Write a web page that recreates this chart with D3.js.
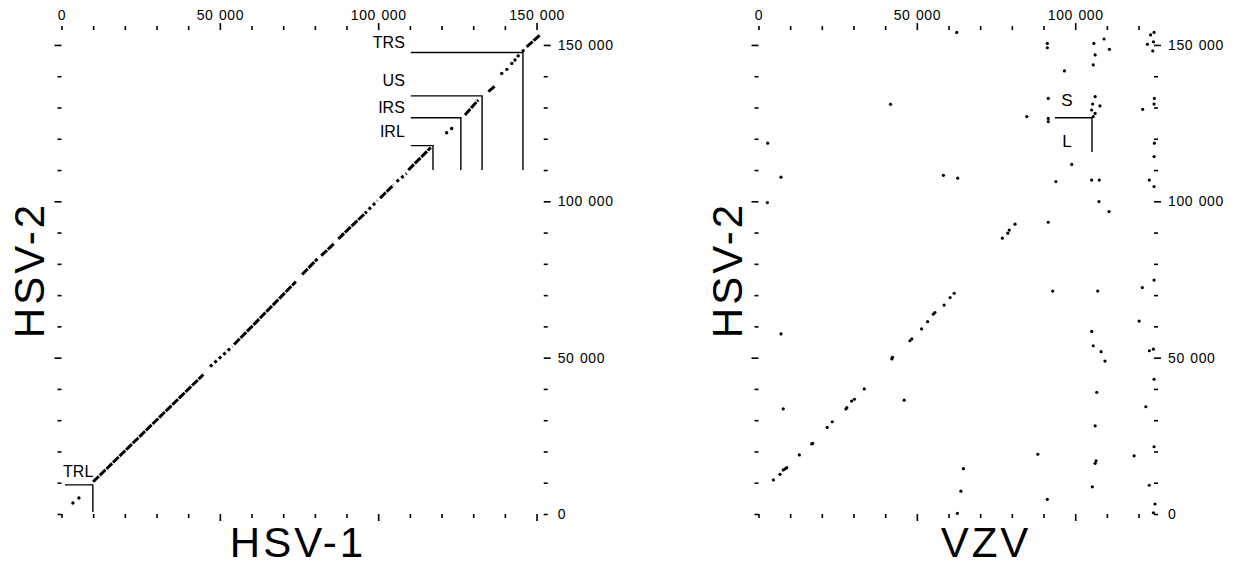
<!DOCTYPE html>
<title>HSV-1 / VZV vs HSV-2 dot plots</title>
<meta charset="utf-8">
<style>
  body { margin: 0; background: #fff; }
  svg { display: block; font-family: Arial, "Liberation Sans", Helvetica, sans-serif; }
  .tick line { stroke: #000; stroke-width: 1.6px; }
  .tick text { font-family: Arial, "Liberation Sans", sans-serif; font-size: 14px; letter-spacing: 0.6px; word-spacing: 1px; fill: #000; }
  .title { font-size: 42px; letter-spacing: 3px; }
  .region { font-size: 16px; }
  .mark { stroke: #000; stroke-width: 1.4px; fill: none; }
  .run { stroke: #000; stroke-width: 3px; fill: none; }
</style>
<body>
<script src="https://d3js.org/d3.v7.min.js"></script>
<script>
  // genome lengths, kb
  var hsv1Length = 152.261, hsv2Length = 154.746, vzvLength = 124.884;

  // tick labels (positions in kb)
  var hsv1TickValues = [0, 50, 100, 150];
  var hsv1TickLabels = ["0", "50 000", "100 000", "150 000"];
  var vzvTickValues = [0, 50, 100];
  var vzvTickLabels = ["0", "50 000", "100 000"];
  var hsv2TickValues = [0, 50, 100, 150];
  var hsv2TickLabels = ["0", "50 000", "100 000", "150 000"];

  // HSV-1 (x) vs HSV-2 (y): runs of matches along the diagonal [x1, y1, x2, y2], kb
  var hsvDenseRuns = [
    [10.0, 10.3, 44.8, 44.6],
    [54.5, 54.2, 74.0, 74.3],
    [76.0, 76.6, 80.8, 81.6],
    [82.0, 82.6, 86.2, 86.6],
    [87.4, 88.0, 96.4, 96.7],
    [100.6, 101.0, 104.8, 105.2],
    [109.5, 110.0, 116.6, 117.2],
    [127.4, 127.6, 131.6, 132.4],
    [134.8, 135.1, 136.9, 136.9],
    [146.9, 149.4, 151.1, 153.2]
  ];
  var hsvSparseRuns = [
    [46.9, 47.1, 54.0, 53.6],
    [97.0, 97.4, 99.8, 100.2],
    [105.8, 106.3, 109.0, 108.9]
  ];
  var hsvDots = [
    [3.6, 3.5], [5.5, 5.1], [121.6, 121.9], [123.2, 123.3], [139.0, 140.9],
    [140.6, 142.2], [142.2, 144.1], [143.2, 145.2], [144.2, 146.5], [145.8, 148.2]
  ];

  // region boundaries: end of each region in HSV-1 (x) and HSV-2 (y), kb
  var hsvRegionNames = ["IRL", "IRS", "US", "TRS"];
  var hsv1RegionEnds = [117.3, 126.1, 132.8, 145.7];
  var hsv2RegionEnds = [117.8, 126.7, 133.7, 147.6];
  var hsvRegionLabelY = [120.7, 128.1, 137.0, 148.9];
  var hsvRegionLineStart = 110.3, hsvRegionLineBottom = 110.0;
  var trlEnd = [9.9, 9.3], trlLineStart = 1.1, trlLineBottom = 0.6, trlLabel = [0.5, 11.8];

  // VZV (x) vs HSV-2 (y) matches, kb
  var vzvDots = [
    [61.8, 70.6], [60.5, 69.2], [58.6, 66.8], [55.7, 64.4], [55.2, 63.9], [53.4, 61.5],
    [51.5, 59.2], [48.4, 56.0], [47.8, 55.4], [42.3, 50.1], [42.1, 49.6], [33.4, 40.0],
    [30.3, 36.7], [29.4, 36.1], [27.9, 34.0], [27.6, 33.6], [23.3, 29.5], [21.7, 27.7],
    [17.1, 22.6], [16.8, 22.4], [12.9, 18.9], [8.9, 14.8], [8.4, 14.4], [7.8, 14.1],
    [6.8, 12.7], [4.7, 10.9],
    [77.0, 88.2], [78.7, 89.8], [79.2, 90.8], [81.0, 92.7],
    [7.1, 57.6], [7.8, 33.6], [46.0, 36.4], [64.7, 14.5], [63.9, 7.3], [62.8, 0.2],
    [88.2, 19.1], [91.2, 4.7], [105.2, 58.4], [105.7, 53.8], [108.2, 51.9], [109.4, 48.9],
    [106.8, 38.9], [106.3, 28.2], [106.6, 17.0], [106.3, 16.2], [105.4, 8.7], [120.2, 61.7],
    [123.4, 52.2], [124.7, 52.7], [124.9, 43.1], [122.3, 34.3], [124.9, 21.5], [118.6, 18.6],
    [123.4, 9.2], [125.2, 3.2], [124.7, 0.4],
    [7.1, 107.7], [2.8, 99.6], [2.9, 118.6], [41.7, 131.0], [58.4, 108.3], [62.9, 107.4],
    [93.9, 106.3], [105.2, 106.8], [107.6, 106.8], [123.4, 106.8], [124.9, 104.7], [107.5, 99.9],
    [110.7, 96.7], [91.5, 93.3], [124.9, 74.8], [121.2, 72.4], [92.9, 71.3], [107.1, 71.3],
    [91.5, 132.9], [84.7, 127.1], [91.5, 126.5], [91.5, 125.5], [106.3, 133.5], [105.5, 131.1],
    [107.8, 130.5], [105.2, 129.2], [106.3, 128.1], [105.7, 127.1], [121.3, 129.4], [125.0, 132.9],
    [124.9, 131.1], [125.0, 118.6], [124.9, 114.3], [98.9, 111.8],
    [91.2, 150.5], [91.2, 149.1], [105.9, 150.5], [109.1, 151.9], [110.8, 148.6], [106.3, 146.8],
    [105.7, 143.6], [96.6, 141.7], [124.9, 154.0], [123.8, 153.2], [124.7, 151.0], [122.8, 150.2],
    [124.5, 148.1], [62.6, 154.0]
  ];
  // S / L junction
  var slCorner = [105.3, 126.7], slLineStart = 93.6, slLineBottom = 115.8;
  var slLabelX = 97.4, sLabelY = 130.6, lLabelY = 117.4;

  var svg = d3.select("body").append("svg")
      .attr("width", 1236)
      .attr("height", 566);

  var y = d3.scaleLinear().domain([0, hsv2Length]).range([514, 514 - 3.127 * hsv2Length]);
  var x1 = d3.scaleLinear().domain([0, hsv1Length]).range([61.5, 61.5 + 3.167 * hsv1Length]);
  var x2 = d3.scaleLinear().domain([0, vzvLength]).range([758.5, 758.5 + 3.167 * vzvLength]);

  function every10(len) { return d3.range(0, len, 10); }

  // longer ticks at 50 000, 100 000, 150 000; drop axis lines
  function fixMajor(g, sign) {
    g.attr("font-family", null).attr("font-size", null);
    g.selectAll(".tick line").each(function(d) {
      var big = d > 0 && d % 50 === 0 ? 7 : 4;
      var l = d3.select(this);
      if (l.attr("x2") !== null && +l.attr("x2") !== 0) l.attr("x2", sign * big);
      else l.attr("y2", sign * big);
    });
    g.select(".domain").remove();
  }

  function drawPanel(x, xLen, xTickValues, xTickLabels) {
    var xLab = d3.scaleOrdinal(xTickValues, xTickLabels);
    var yLab = d3.scaleOrdinal(hsv2TickValues, hsv2TickLabels);

    svg.append("g")
        .attr("transform", "translate(0," + y(hsv2Length) + ")")
        .call(d3.axisTop(x).tickValues(every10(xLen)).tickSize(4).tickPadding(6)
          .tickFormat(function(d) { return xTickValues.indexOf(d) >= 0 ? xLab(d) : ""; }))
        .call(fixMajor, -1);

    svg.append("g")
        .attr("transform", "translate(0," + y(0) + ")")
        .call(d3.axisBottom(x).tickValues(every10(xLen)).tickSize(4).tickFormat(""))
        .call(fixMajor, 1);

    svg.append("g")
        .attr("transform", "translate(" + x(0) + ",0)")
        .call(d3.axisLeft(y).tickValues(every10(hsv2Length)).tickSize(4).tickFormat(""))
        .call(fixMajor, -1);

    svg.append("g")
        .attr("transform", "translate(" + x(xLen) + ",0)")
        .call(d3.axisRight(y).tickValues(every10(hsv2Length)).tickSize(4).tickPadding(10)
          .tickFormat(function(d) { return hsv2TickValues.indexOf(d) >= 0 ? yLab(d) : ""; }))
        .call(fixMajor, 1);
  }

  drawPanel(x1, hsv1Length, hsv1TickValues, hsv1TickLabels);
  drawPanel(x2, vzvLength, vzvTickValues, vzvTickLabels);

  // HSV-1 vs HSV-2 diagonal
  svg.append("g").selectAll("line")
      .data(hsvDenseRuns)
      .enter().append("line")
      .attr("class", "run")
      .attr("stroke-dasharray", "8 1.2")
      .attr("x1", function(d) { return x1(d[0]); })
      .attr("y1", function(d) { return y(d[1]); })
      .attr("x2", function(d) { return x1(d[2]); })
      .attr("y2", function(d) { return y(d[3]); });

  svg.append("g").selectAll("line")
      .data(hsvSparseRuns)
      .enter().append("line")
      .attr("class", "run")
      .attr("stroke-dasharray", "3 3")
      .attr("x1", function(d) { return x1(d[0]); })
      .attr("y1", function(d) { return y(d[1]); })
      .attr("x2", function(d) { return x1(d[2]); })
      .attr("y2", function(d) { return y(d[3]); });

  svg.append("g").selectAll("circle")
      .data(hsvDots)
      .enter().append("circle")
      .attr("cx", function(d) { return x1(d[0]); })
      .attr("cy", function(d) { return y(d[1]); })
      .attr("r", 1.7);

  // region boundary marks
  var marks = svg.append("g");
  hsvRegionNames.forEach(function(name, i) {
    var cx = x1(hsv1RegionEnds[i]), cy = y(hsv2RegionEnds[i]);
    marks.append("path").attr("class", "mark")
        .attr("d", "M" + x1(hsvRegionLineStart) + "," + cy + "H" + cx + "V" + y(hsvRegionLineBottom));
    marks.append("text").attr("class", "region")
        .attr("x", x1(hsvRegionLineStart) - 6)
        .attr("y", y(hsvRegionLabelY[i]))
        .attr("text-anchor", "end")
        .text(name);
  });
  marks.append("path").attr("class", "mark")
      .attr("d", "M" + x1(trlLineStart) + "," + y(trlEnd[1]) + "H" + x1(trlEnd[0]) + "V" + y(trlLineBottom));
  marks.append("text").attr("class", "region")
      .attr("x", x1(trlLabel[0])).attr("y", y(trlLabel[1]))
      .text("TRL");

  // VZV vs HSV-2
  svg.append("g").selectAll("circle")
      .data(vzvDots)
      .enter().append("circle")
      .attr("cx", function(d) { return x2(d[0]); })
      .attr("cy", function(d) { return y(d[1]); })
      .attr("r", 1.6);

  marks.append("path").attr("class", "mark")
      .attr("d", "M" + x2(slLineStart) + "," + y(slCorner[1]) + "H" + x2(slCorner[0]) + "V" + y(slLineBottom));
  marks.append("text").attr("class", "region").style("font-size", "17px")
      .attr("x", x2(slLabelX)).attr("y", y(sLabelY)).attr("text-anchor", "middle").text("S");
  marks.append("text").attr("class", "region").style("font-size", "17px")
      .attr("x", x2(slLabelX)).attr("y", y(lLabelY)).attr("text-anchor", "middle").text("L");

  // axis titles
  svg.append("text").attr("class", "title")
      .attr("x", 298).attr("y", 557).attr("text-anchor", "middle").text("HSV-1");
  svg.append("text").attr("class", "title")
      .attr("x", 986).attr("y", 557).attr("text-anchor", "middle").text("VZV");
  svg.append("text").attr("class", "title")
      .attr("transform", "translate(44,270) rotate(-90)").attr("text-anchor", "middle").text("HSV-2");
  svg.append("text").attr("class", "title")
      .attr("transform", "translate(742,270) rotate(-90)").attr("text-anchor", "middle").text("HSV-2");
</script>
